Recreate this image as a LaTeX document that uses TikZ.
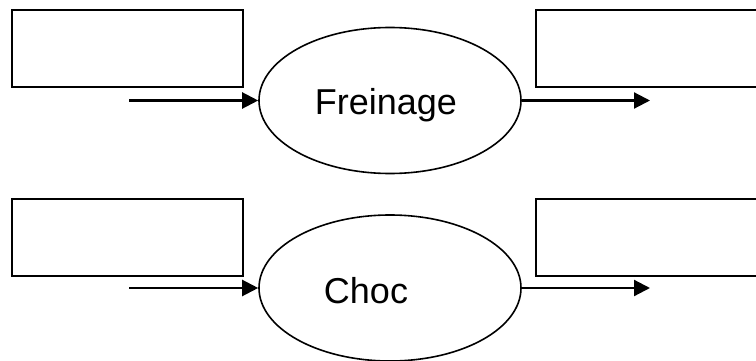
\documentclass[tikz,border=0pt]{standalone}
\usepackage{fontspec}
\setmainfont{Liberation Sans}
\usetikzlibrary{shapes.geometric,arrows.meta}
\begin{document}
\begin{tikzpicture}[x=1pt,y=1pt,
  box/.style={draw,line width=2.2pt,minimum width=231pt,minimum height=77pt,inner sep=0pt,anchor=north west},
  proc/.style={draw,ellipse,line width=1.6pt,minimum width=262pt,minimum height=146pt,inner sep=0pt},
  lbl/.style={font=\fontsize{36}{40}\selectfont,inner sep=0pt,anchor=base},
  flow/.style={line width=2.2pt,-{Triangle[length=16pt,width=16pt]}}]
\useasboundingbox (0,0) rectangle (756,360);
% top row
\node[box] (r1) at (11,351) {};
\node[box,minimum width=226pt] (r2) at (535,351) {};
\node[proc] (e1) at (390,259.5) {};
\node[lbl] (t1) at (386,246) {Freinage};
\coordinate (s1) at (129,259.5);
\coordinate (d1) at (650,259.5);
\draw[flow] (s1) -- (e1.west);
\draw[flow] (e1.east) -- (d1);
% bottom row
\node[box] (r3) at (11,162) {};
\node[box,minimum width=226pt] (r4) at (535,162) {};
\node[proc] (e2) at (390,72) {};
\node[lbl] (t2) at (366,57) {Choc};
\coordinate (s2) at (129,72);
\coordinate (d2) at (650,72);
\draw[flow] (s2) -- (e2.west);
\draw[flow] (e2.east) -- (d2);
\end{tikzpicture}
\end{document}
